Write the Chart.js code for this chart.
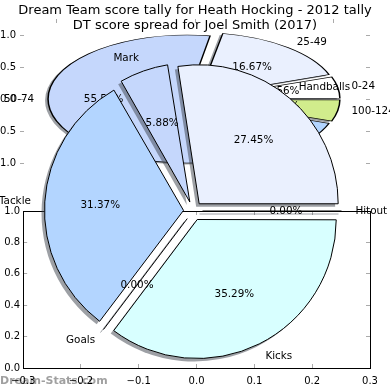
<!DOCTYPE html>
<html><head><meta charset="utf-8">
<script src="https://cdn.jsdelivr.net/npm/chart.js"></script>
<style>
html,body{margin:0;padding:0;background:#fff;}
#wrap{position:relative;width:390px;height:390px;overflow:hidden;background:#fff;}
#wrap canvas{position:absolute;left:0;top:0;}
</style></head><body>
<div id="wrap">
<canvas id="cTopAxes" width="390" height="390"></canvas>
<canvas id="cBack" width="390" height="390"></canvas>
<canvas id="cBotAxes" width="390" height="390"></canvas>
<canvas id="cFront" width="390" height="390"></canvas>
</div>
<script>
// ---------- data ----------
const titleLines = ['Dream Team score tally for Heath Hocking - 2012 tally', 'DT score spread for Joel Smith (2017)'];
// back (squashed) pie: 2012 score tally, counter-clockwise from east
const tallyLabels = ['0-24', '25-49', '50-74', '75-99', '100-124'];
const tallyCounts = [1, 3, 10, 3, 1];
const tallyColors = ['#ffffff', '#eaf0fe', '#c5d7fc', '#b3d5ff', '#d1ec8c'];
// front pie: 2017 stat spread, counter-clockwise from east
const statLabels = ['Handballs', 'Mark', 'Tackle', 'Goals', 'Kicks', 'Hitout'];
const statCounts = [14, 3, 16, 0, 18, 0];
const statColors = ['#eaf0fe', '#c5d7fc', '#b3d5ff', '#ffffff', '#d8ffff', '#ffffff'];
// axis ticks
const topYTicks = [1.0, 0.5, 0.0, -0.5, -1.0];
const topXTicks = [-1, 0, 1];
const botXTicks = [-0.3, -0.2, -0.1, 0.0, 0.1, 0.2, 0.3];
const botYTicks = [0.0, 0.2, 0.4, 0.6, 0.8, 1.0];
const watermark = 'Dream-Stats.com';

// ---------- helpers ----------
const FONT = 'DejaVu Sans';
Chart.defaults.font.family = FONT;
Chart.defaults.color = '#000';
Chart.defaults.animation = false;
Chart.defaults.plugins.legend.display = false;
Chart.defaults.plugins.tooltip.enabled = false;
Chart.defaults.events = [];

const fmt = v => (Math.abs(v) < 1e-9 ? 0 : v).toFixed(1).replace('-', '\u2212');
const rev = a => a.slice().reverse();

function zeroLine(ctx, a, cfg, color) {
  const c = Math.cos(a.startAngle), s = Math.sin(a.startAngle);
  const ex = a.x + c * cfg.explode, ey = a.y + s * cfg.explode;
  ctx.beginPath();
  ctx.moveTo(ex, ey);
  ctx.lineTo(ex + c * cfg.R, ey + s * cfg.R);
  ctx.lineWidth = cfg.lineW;
  ctx.strokeStyle = color;
  ctx.stroke();
}

function piePlugin(cfg) {
  return {
    id: 'piecustom',
    beforeDatasetDraw(chart) {
      const ctx = chart.ctx;
      const arcs = chart.getDatasetMeta(0).data;
      const cx = arcs[0].x, cy = arcs[0].y;
      arcs.forEach(a => {
        const off = (a.options.offset || 0) / 4;
        const fix = 1 - Math.sin(Math.min(Math.PI, a.circumference || 0));
        a.outerRadius = cfg.R - off * fix;
      });
      const squash = () => { ctx.translate(cx, cy); ctx.scale(1, cfg.K); ctx.translate(-cx, -cy); };
      // shadow pass
      ctx.save();
      ctx.translate(cfg.shX, cfg.shY);
      squash();
      arcs.forEach(a => {
        if (a.circumference > 0) {
          const o = a.options;
          a.options = Object.assign({}, o, {backgroundColor: cfg.shadow, borderWidth: 0});
          a.draw(ctx);
          a.options = o;
        } else {
          zeroLine(ctx, a, cfg, cfg.shadow);
        }
      });
      ctx.restore();
      ctx.save();
      squash();
    },
    afterDatasetDraw(chart) {
      const ctx = chart.ctx;
      chart.getDatasetMeta(0).data.forEach(a => { if (a.circumference === 0) zeroLine(ctx, a, cfg, '#000'); });
      ctx.restore();
    },
    afterDatasetsDraw(chart) {
      const ctx = chart.ctx;
      const ds = chart.data.datasets[0].data;
      const total = ds.reduce((p, v) => p + v, 0);
      ctx.save();
      ctx.font = cfg.fontSize + 'px "' + FONT + '"';
      ctx.fillStyle = '#000';
      ctx.textBaseline = 'middle';
      chart.getDatasetMeta(0).data.forEach((a, i) => {
        const mid = (a.startAngle + a.endAngle) / 2;
        const c = Math.cos(mid), s = Math.sin(mid);
        const ex = a.x + c * cfg.explode, ey = a.y + s * cfg.explode * cfg.K;
        const lx = ex + c * 1.1 * cfg.R, ly = ey + s * 1.1 * cfg.R * cfg.K;
        ctx.textAlign = lx > a.x ? 'left' : 'right';
        ctx.fillText(chart.data.labels[i], lx, ly);
        ctx.textAlign = 'center';
        ctx.fillText((ds[i] / total * 100).toFixed(2) + '%', ex + c * 0.6 * cfg.R, ey + s * 0.6 * cfg.R * cfg.K);
      });
      ctx.restore();
    }
  };
}

const tickGrid = {drawOnChartArea: false, tickLength: -4, color: '#aaaaaa', lineWidth: 1};
const tickFont = {size: 10, family: FONT};
function fixedTicks(list) { return s => { s.ticks = list.map(v => ({value: v})); }; }

// ---------- top axes (ticks only) ----------
new Chart(document.getElementById('cTopAxes'), {
  type: 'scatter',
  data: {datasets: []},
  options: {
    responsive: false,
    layout: {padding: {left: 0, right: 0, top: 0, bottom: 211}},
    scales: {
      x: {type: 'linear', position: 'top', min: -1.26, max: 1.26, afterBuildTicks: fixedTicks(topXTicks),
          ticks: {display: false}, grid: tickGrid, border: {display: false}, afterFit: s => { s.height = 19; }},
      y: {type: 'linear', position: 'left', min: -1.25, max: 1.25, afterBuildTicks: fixedTicks(topYTicks),
          ticks: {callback: fmt, font: tickFont, color: '#000', padding: 8}, grid: tickGrid,
          border: {display: false}, afterFit: s => { s.width = 20; }},
      yr: {type: 'linear', position: 'right', min: -1.25, max: 1.25, afterBuildTicks: fixedTicks(topYTicks),
           ticks: {display: false}, grid: tickGrid, border: {display: false}, afterFit: s => { s.width = 20; }}
    }
  }
});

// ---------- back squashed pie ----------
const BACK = {R: 139, K: 64 / 139, explode: 0.05 * 139, shX: -3, shY: 1.5, shadow: 'rgba(60,65,75,0.5)', fontSize: 10.4, lineW: 1.5};
new Chart(document.getElementById('cBack'), {
  type: 'pie',
  data: {
    labels: rev(tallyLabels),
    datasets: [{data: rev(tallyCounts), backgroundColor: rev(tallyColors), borderColor: '#000',
                borderWidth: 1.5, borderJoinStyle: 'miter', offset: 4 * BACK.explode, clip: 1000}]
  },
  options: {responsive: false, rotation: 90, radius: BACK.R,
            layout: {padding: {left: 0, right: 2, top: 0, bottom: 192}}},
  plugins: [piePlugin(BACK)]
});

// ---------- bottom axes ----------
new Chart(document.getElementById('cBotAxes'), {
  type: 'scatter',
  data: {datasets: []},
  options: {
    responsive: false,
    layout: {padding: {left: 0, right: 0, top: 201, bottom: 0}},
    scales: {
      x: {type: 'linear', position: 'bottom', min: -0.3, max: 0.3, afterBuildTicks: fixedTicks(botXTicks),
          ticks: {callback: fmt, font: tickFont, color: '#000', padding: 11, maxRotation: 0, autoSkip: false},
          grid: tickGrid, border: {display: true, color: '#000', width: 1}, afterFit: s => { s.height = 22; }},
      xt: {type: 'linear', position: 'top', min: -0.3, max: 0.3, afterBuildTicks: fixedTicks(botXTicks),
           ticks: {display: false}, grid: tickGrid, border: {display: true, color: '#000', width: 1},
           afterFit: s => { s.height = 10; }},
      y: {type: 'linear', position: 'left', min: 0, max: 1, afterBuildTicks: fixedTicks(botYTicks),
          ticks: {callback: fmt, font: tickFont, color: '#000', padding: 7}, grid: tickGrid,
          border: {display: true, color: '#000', width: 1}, afterFit: s => { s.width = 19; }},
      yr: {type: 'linear', position: 'right', min: 0, max: 1, afterBuildTicks: fixedTicks(botYTicks),
           ticks: {display: false}, grid: tickGrid, border: {display: true, color: '#000', width: 1},
           afterFit: s => { s.width = 20; }}
    }
  },
  plugins: [{
    id: 'watermark',
    beforeDraw(chart) {
      const ctx = chart.ctx;
      ctx.save();
      ctx.font = 'bold 11px "' + FONT + '"';
      ctx.fillStyle = 'rgba(120,120,120,0.7)';
      ctx.textAlign = 'left';
      ctx.textBaseline = 'middle';
      ctx.fillText(watermark, 0, 381);
      ctx.restore();
    }
  }]
});

// ---------- front pie ----------
const FRONT = {R: 139, K: 1, explode: 9.5, shX: -3, shY: 3, shadow: 'rgba(60,65,75,0.5)', fontSize: 10.4, lineW: 1};
new Chart(document.getElementById('cFront'), {
  type: 'pie',
  data: {
    labels: rev(statLabels),
    datasets: [{data: rev(statCounts), backgroundColor: rev(statColors), borderColor: '#000',
                borderWidth: 1, borderJoinStyle: 'miter', offset: 4 * FRONT.explode, clip: 1000}]
  },
  options: {responsive: false, rotation: 90, radius: FRONT.R,
            layout: {padding: {left: 0, right: 4, top: 32, bottom: 0}}},
  plugins: [piePlugin(FRONT), {
    id: 'titles',
    afterDraw(chart) {
      const ctx = chart.ctx;
      ctx.save();
      ctx.font = '13px "' + FONT + '"';
      ctx.fillStyle = '#000';
      ctx.textAlign = 'center';
      ctx.textBaseline = 'middle';
      titleLines.forEach((t, i) => ctx.fillText(t, 195, 11 + 15 * i));
      ctx.restore();
    }
  }]
});
</script>
</body></html>
